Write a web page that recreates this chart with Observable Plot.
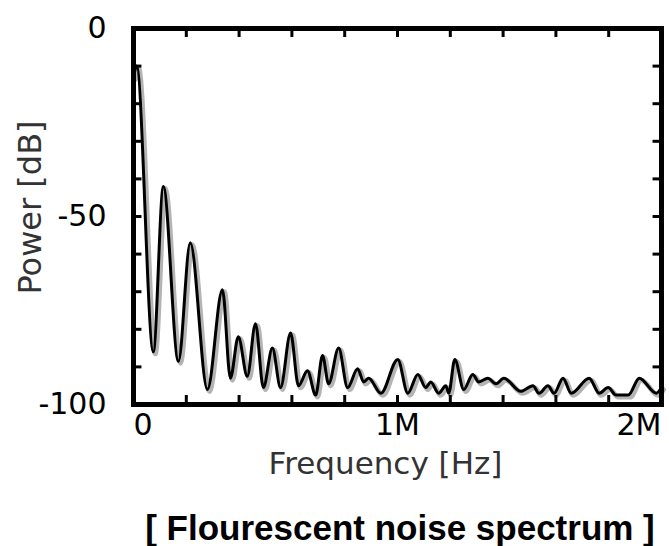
<!DOCTYPE html>
<html>
<head>
<meta charset="utf-8">
<script src="https://cdn.jsdelivr.net/npm/d3@7"></script>
<script src="https://cdn.jsdelivr.net/npm/@observablehq/plot@0.6"></script>
<style>
  html, body { margin: 0; padding: 0; background: #fff; }
  #caption {
    width: 669px; box-sizing: border-box; padding-left: 131px;
    font-family: "Liberation Sans", Arial, sans-serif; font-weight: bold;
    font-size: 35px; line-height: 40px; color: #000; text-align: center;
  }
</style>
</head>
<body>
<div id="chart"></div>
<div id="caption">[ Flourescent noise spectrum ]</div>
<script>
// Frequency in kHz, power in dB
const freqKHz = [0, 12, 75, 113, 170, 215, 280, 337, 367, 397, 431, 462, 492, 526, 557, 595, 625, 659, 690, 716, 739, 777, 811, 849, 872, 891, 937, 1001, 1039, 1077, 1107, 1126, 1156, 1183, 1194, 1217, 1251, 1285, 1308, 1342, 1373, 1403, 1467, 1513, 1536, 1570, 1593, 1627, 1658, 1726, 1764, 1798, 1828, 1874, 1916, 1980, 2000];
const powerDb = [-13, -10, -86, -42, -88.5, -57, -96, -69.5, -93, -82, -92.5, -78.5, -95.5, -85, -95.5, -81, -95, -91, -97.5, -87, -94.5, -85, -95.5, -90.5, -94, -93, -97, -88, -97, -92, -95.5, -94, -97, -95, -97, -88, -96, -92, -94, -93, -94.5, -93, -96.5, -95, -97, -95, -97, -93, -97, -93, -97, -95.5, -97.5, -97.5, -93, -97, -95.5];

const xTickValues = [200000, 400000, 600000, 800000, 1000000, 1200000, 1400000, 1600000, 1800000];
const yTickValues = [-10, -20, -30, -40, -50, -60, -70, -80, -90];
const yLabelValues = [0, -50, -100];
const yLabelText = ["0", "-50", "-100"];
const xLabelValues = [0, 1000000, 2000000];
const xLabelText = ["0", "1M", "2M"];
const xTitle = "Frequency [Hz]";
const yTitle = "Power [dB]";

const data = freqKHz.map((f, i) => ({f: f * 1000, p: powerDb[i]}));
const yLabels = yLabelValues.map((v, i) => ({v, t: yLabelText[i]}));
const xLabels = xLabelValues.map((v, i) => ({v, t: xLabelText[i]}));
const font = "DejaVu Sans, Verdana, sans-serif";

const chart = Plot.plot({
  width: 669,
  height: 508,
  marginLeft: 133,
  marginRight: 8,
  marginTop: 28,
  marginBottom: 104,
  x: {domain: [0, 2000000], axis: null},
  y: {domain: [-100, 0], axis: null},
  marks: [
    Plot.line(data, {x: "f", y: "p", curve: "monotone-x", stroke: "#b4b4b4", strokeWidth: 5, dx: 2, dy: 2}),
    Plot.line(data, {x: "f", y: "p", curve: "monotone-x", stroke: "#000", strokeWidth: 3}),
    // inside ticks
    Plot.ruleX(xTickValues, {x: d => d, y1: 0, y2: -2.4, stroke: "#000", strokeWidth: 3}),
    Plot.ruleX(xTickValues, {x: d => d, y1: -100, y2: -97.6, stroke: "#000", strokeWidth: 3}),
    Plot.ruleY(yTickValues, {y: d => d, x1: 0, x2: 32000, stroke: "#000", strokeWidth: 3}),
    Plot.ruleY(yTickValues, {y: d => d, x1: 2000000, x2: 1968000, stroke: "#000", strokeWidth: 3}),
    Plot.frame({stroke: "#000", strokeWidth: 5}),
    // y tick labels
    Plot.text(yLabels, {x: 0, y: "v", text: "t", dx: -27, textAnchor: "end", lineAnchor: "middle",
      fontSize: 30, fontFamily: font, fill: "#000"}),
    // x tick labels
    Plot.text(xLabels.slice(0, 1), {x: "v", y: -100, text: "t", dy: 21, textAnchor: "start", lineAnchor: "middle",
      fontSize: 30, fontFamily: font, fill: "#000"}),
    Plot.text(xLabels.slice(1, 2), {x: "v", y: -100, text: "t", dy: 21, textAnchor: "middle", lineAnchor: "middle",
      fontSize: 30, fontFamily: font, fill: "#000"}),
    Plot.text(xLabels.slice(2), {x: "v", y: -100, text: "t", dy: 21, textAnchor: "end", lineAnchor: "middle",
      fontSize: 30, fontFamily: font, fill: "#000"}),
    // axis titles
    Plot.text([xTitle], {frameAnchor: "bottom", dx: -12, dy: 69, textAnchor: "middle", lineAnchor: "bottom",
      fontSize: 31, fontFamily: font, fill: "#333"}),
    Plot.text([yTitle], {frameAnchor: "left", dx: -103, dy: -9, rotate: -90, textAnchor: "middle", lineAnchor: "middle",
      fontSize: 32, fontFamily: font, fill: "#333"})
  ]
});
document.getElementById("chart").appendChild(chart);
</script>
</body>
</html>
